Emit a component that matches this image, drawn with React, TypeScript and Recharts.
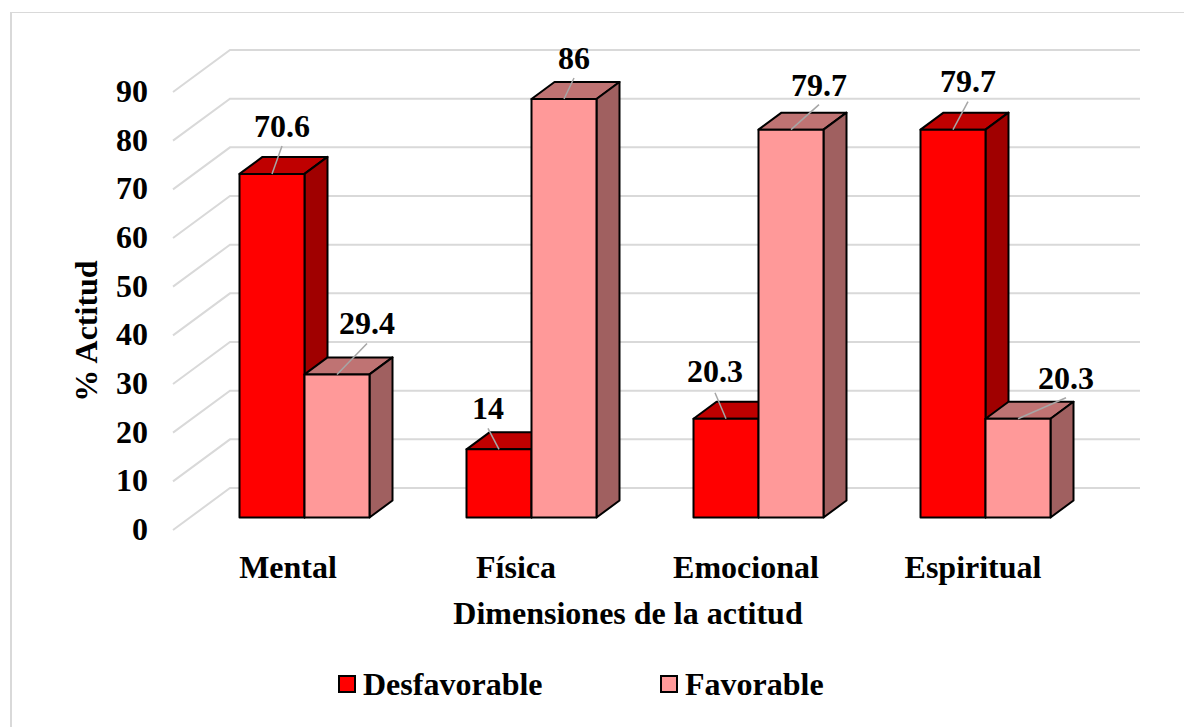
import React from 'react';
import { BarChart, Bar, XAxis, YAxis, CartesianGrid, Legend } from 'recharts';

const categories = ['Mental', 'Física', 'Emocional', 'Espiritual'];
const desfavorable = [70.6, 14, 20.3, 79.7];
const favorable = [29.4, 86, 79.7, 20.3];
const yTicks = [0, 10, 20, 30, 40, 50, 60, 70, 80, 90];

const chartData = categories.map((name, i) => ({
  name,
  desfavorable: desfavorable[i],
  favorable: favorable[i],
}));

const FONT = '"Liberation Serif", "Times New Roman", serif';
const FONT_SIZE = 32;
const DEPTH_X = 23;
const DEPTH_Y = 17;

// where each data label sits relative to the top centre of its bar: [leaderX, leaderY, textX, textBaselineY]
const desfLabelPos = [
  [10, -28, 10, -37],
  [-11, -21, -11, -30],
  [-11, -26, -11, -37],
  [15, -28, 15, -38],
];
const favLabelPos = [
  [30, -31, 30, -40],
  [10, -21, 10, -30],
  [28, -25, 28, -34],
  [48, -21, 48, -30],
];
// category labels are not quite centred under the groups
const xTickShift = [-16, -15, -12, -12];

const Bar3D = (props: any) => {
  const { x, y, width, height, fill, topFill, sideFill } = props;
  const r = x + width;
  const b = y + height;
  const stroke = { stroke: '#000', strokeWidth: 2, strokeLinejoin: 'round' as const };
  return (
    <g>
      <path d={`M${x},${y} L${x + DEPTH_X},${y - DEPTH_Y} H${r + DEPTH_X} L${r},${y} Z`} fill={topFill} {...stroke} />
      <path d={`M${r},${y} L${r + DEPTH_X},${y - DEPTH_Y} V${b - DEPTH_Y} L${r},${b} Z`} fill={sideFill} {...stroke} />
      <rect x={x} y={y} width={width} height={height} fill={fill} {...stroke} />
    </g>
  );
};

const makeLabel = (positions: number[][]) => (props: any) => {
  const { x, y, width, value, index } = props;
  const cx = x + width / 2;
  const [lx, ly, tx, ty] = positions[index];
  return (
    <g>
      <line x1={cx} y1={y} x2={cx + lx} y2={y + ly} stroke="#A6A6A6" strokeWidth={1.5} />
      <text x={cx + tx} y={y + ty} textAnchor="middle" fontFamily={FONT} fontSize={FONT_SIZE} fontWeight="bold" fill="#000">
        {value}
      </text>
    </g>
  );
};

const GridLine = (props: any) => {
  const { y1 } = props;
  return (
    <path
      d={`M173,${y1 + 12.5} L230,${y1 - 29.5} H1140`}
      fill="none"
      stroke="#D9D9D9"
      strokeWidth={2}
    />
  );
};

const YTick = (props: any) => (
  <text x={148} y={props.y + 22.5} textAnchor="end" fontFamily={FONT} fontSize={FONT_SIZE} fontWeight="bold" fill="#000">
    {props.payload.value}
  </text>
);

const XTick = (props: any) => (
  <text x={props.x + xTickShift[props.index]} y={578} textAnchor="middle" fontFamily={FONT} fontSize={FONT_SIZE} fontWeight="bold" fill="#000">
    {props.payload.value}
  </text>
);

const LegendBox = () => {
  const text = { fontFamily: FONT, fontSize: FONT_SIZE, fontWeight: 'bold' as const, fill: '#000' };
  return (
    <svg width={1184} height={60} style={{ display: 'block' }}>
      <rect x={339} y={17} width={16} height={16} fill="#FF0000" stroke="#000" strokeWidth={2} />
      <text x={363} y={36} {...text}>Desfavorable</text>
      <rect x={661} y={17} width={16} height={16} fill="#FF9999" stroke="#000" strokeWidth={2} />
      <text x={685} y={36} {...text}>Favorable</text>
    </svg>
  );
};

export default function App() {
  return (
    <div style={{ position: 'absolute', left: 0, top: 0, width: 1184, height: 727, overflow: 'hidden', background: '#fff' }}>
      <div style={{ position: 'absolute', left: 10, top: 12, width: 1174, height: 715, borderLeft: '2px solid #D9D9D9', borderTop: '1px solid #D9D9D9', boxSizing: 'border-box' }} />
      <BarChart
        width={1184}
        height={727}
        data={chartData}
        margin={{ top: 79.5, right: 85.5, bottom: 0, left: 0 }}
        barCategoryGap={48.5}
        barGap={0}
        style={{ position: 'absolute', left: 0, top: 0 }}
      >
        <CartesianGrid vertical={false} horizontal={(p: any) => <GridLine key={p.key} {...p} />} />
        <XAxis
          dataKey="name"
          height={149.5}
          axisLine={false}
          tickLine={false}
          tick={<XTick />}
          interval={0}
          label={{
            content: () => (
              <text x={628} y={624} textAnchor="middle" fontFamily={FONT} fontSize={FONT_SIZE} fontWeight="bold" fill="#000">
                Dimensiones de la actitud
              </text>
            ),
          }}
        />
        <YAxis
          width={190.5}
          domain={[0, 90]}
          ticks={yTicks}
          axisLine={false}
          tickLine={false}
          tick={<YTick />}
          label={{
            content: () => (
              <text
                transform="translate(97,331) rotate(-90)"
                textAnchor="middle"
                fontFamily={FONT}
                fontSize={FONT_SIZE}
                fontWeight="bold"
                fill="#000"
              >
                % Actitud
              </text>
            ),
          }}
        />
        <Legend content={<LegendBox />} wrapperStyle={{ left: 0, top: 659, width: 1184 }} />
        <Bar
          dataKey="desfavorable"
          name="Desfavorable"
          fill="#FF0000"
          barSize={65}
          isAnimationActive={false}
          shape={<Bar3D topFill="#BF0000" sideFill="#A00000" />}
          label={makeLabel(desfLabelPos)}
        />
        <Bar
          dataKey="favorable"
          name="Favorable"
          fill="#FF9999"
          barSize={65}
          isAnimationActive={false}
          shape={<Bar3D topFill="#BF7373" sideFill="#A06060" />}
          label={makeLabel(favLabelPos)}
        />
      </BarChart>
    </div>
  );
}
